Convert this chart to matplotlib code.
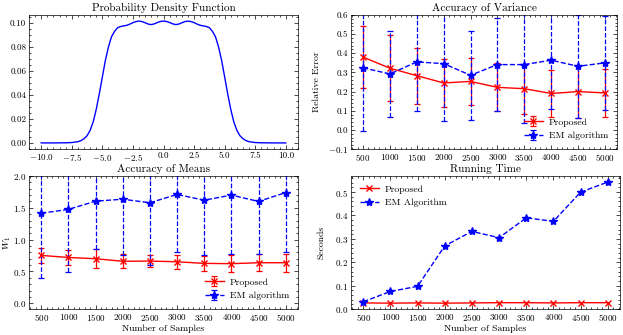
import numpy as np
import matplotlib
matplotlib.use("Agg")
import matplotlib.pyplot as plt

plt.rcParams.update({
    "font.family": "serif",
    "font.serif": ["cmr10"],
    "mathtext.fontset": "cm",
    "axes.formatter.use_mathtext": True,
    "axes.unicode_minus": True,
    "font.size": 7,
    "xtick.direction": "in",
    "ytick.direction": "in",
    "xtick.top": True,
    "ytick.right": True,
    "xtick.minor.visible": True,
    "ytick.minor.visible": True,
    "xtick.major.size": 3,
    "ytick.major.size": 3,
    "xtick.minor.size": 1.5,
    "ytick.minor.size": 1.5,
    "xtick.major.width": 0.5,
    "ytick.major.width": 0.5,
    "xtick.minor.width": 0.5,
    "ytick.minor.width": 0.5,
    "axes.linewidth": 0.5,
    "legend.frameon": False,
})

# ---- data ----
pdf_x_half = [0.0, 0.25, 0.5, 0.75, 1.0, 1.25, 1.5, 1.75, 2.0, 2.25, 2.5, 2.75,
              3.0, 3.25, 3.5, 3.75, 4.0, 4.25, 4.5, 4.75, 5.0, 5.25, 5.5, 5.75,
              6.0, 6.25, 6.5, 6.75, 7.0, 7.5, 8.0, 9.0, 10.0]
pdf_y_half = [0.1015, 0.1012, 0.1003, 0.0992, 0.0986, 0.0990, 0.1001, 0.1011,
              0.1015, 0.1011, 0.1002, 0.0990, 0.0980, 0.0975, 0.0970, 0.0960,
              0.0930, 0.0885, 0.0800, 0.0690, 0.0550, 0.0410, 0.0280, 0.0175,
              0.0105, 0.0060, 0.0035, 0.0019, 0.0010, 0.0003, 0.0001, 0.0, 0.0]

samples = [500, 1000, 1500, 2000, 2500, 3000, 3500, 4000, 4500, 5000]

var_prop = [0.380, 0.322, 0.283, 0.245, 0.253, 0.222, 0.215, 0.190, 0.200, 0.193]
var_prop_err = [0.163, 0.172, 0.147, 0.125, 0.124, 0.126, 0.130, 0.125, 0.140, 0.124]
var_em = [0.324, 0.292, 0.355, 0.346, 0.285, 0.341, 0.341, 0.364, 0.332, 0.350]
var_em_err = [0.328, 0.226, 0.259, 0.301, 0.231, 0.245, 0.306, 0.256, 0.270, 0.245]

mean_prop = [0.752, 0.720, 0.700, 0.660, 0.663, 0.652, 0.627, 0.622, 0.637, 0.637]
mean_prop_err = [0.120, 0.120, 0.145, 0.110, 0.100, 0.110, 0.120, 0.130, 0.135, 0.140]
mean_em = [1.415, 1.475, 1.605, 1.635, 1.580, 1.710, 1.620, 1.700, 1.600, 1.740]
mean_em_err = [1.015, 0.990, 0.750, 0.870, 0.985, 0.910, 0.860, 0.930, 0.820, 0.935]

time_prop = [0.026, 0.025, 0.026, 0.025, 0.026, 0.027, 0.027, 0.026, 0.027, 0.027]
time_em = [0.031, 0.075, 0.097, 0.270, 0.332, 0.305, 0.390, 0.375, 0.500, 0.543]

pdf_x = [-v for v in pdf_x_half[::-1]] + pdf_x_half[1:]
pdf_y = pdf_y_half[::-1] + pdf_y_half[1:]

fig = plt.figure(figsize=(6.23, 3.35), dpi=100)
W, H = 623.0, 335.0
def ax_at(x0, y0, x1, y1):
    return fig.add_axes([x0 / W, 1 - y1 / H, (x1 - x0) / W, (y1 - y0) / H])

ax1 = ax_at(29, 15, 298, 149)
ax2 = ax_at(351, 15, 617, 149)
ax3 = ax_at(29, 176, 298, 309)
ax4 = ax_at(351, 176, 620, 309)

signed = matplotlib.ticker.FuncFormatter

# PDF
ax1.plot(pdf_x, pdf_y, color="blue", lw=1.0)
ax1.set_title("Probability Density Function", fontsize=8, pad=3)
ax1.set_xticks([-10, -7.5, -5, -2.5, 0, 2.5, 5, 7.5, 10])
ax1.xaxis.set_major_formatter(signed(
    lambda v, p: ("$-$" if v < 0 else "") + "%.1f" % abs(v)))
ax1.yaxis.set_major_formatter(matplotlib.ticker.FormatStrFormatter("%.2f"))


def eb(ax, y, err, color, marker, ls, label, ms):
    c = ax.errorbar(samples, y, yerr=err, color=color, marker=marker, ls=ls,
                    lw=1.0, ms=ms, capsize=2.2, elinewidth=0.9, capthick=0.9,
                    label=label)
    for bl in c[2]:
        bl.set_linestyle(ls)
    return c

leg_kw = dict(fontsize=7, handlelength=2.0, handletextpad=0.6)

# Variance
eb(ax2, var_prop, var_prop_err, "red", "x", "-", "Proposed", 5)
eb(ax2, var_em, var_em_err, "blue", "*", "--", "EM algorithm", 6)
ax2.set_ylim(-0.1, 0.6)
ax2.set_title("Accuracy of Variance", fontsize=8, pad=3)
ax2.set_ylabel("Relative Error", labelpad=5)
ax2.set_xticks(samples)
ax2.yaxis.set_major_formatter(signed(
    lambda v, p: ("$-$" if v < -1e-9 else "") + "%.1f" % abs(v)))
ax2.legend(loc="lower right", **leg_kw)

# Means
eb(ax3, mean_prop, mean_prop_err, "red", "x", "-", "Proposed", 5)
eb(ax3, mean_em, mean_em_err, "blue", "*", "--", "EM algorithm", 6)
ax3.set_ylim(-0.09, 2.0)
ax3.set_title("Accuracy of Means", fontsize=8, pad=3)
ax3.set_ylabel("$W_1$", labelpad=0)
ax3.set_xlabel("Number of Samples", labelpad=1)
ax3.set_xticks(samples)
ax3.legend(loc="lower right", **leg_kw)

# Running time
ax4.plot(samples, time_prop, color="red", marker="x", ls="-", lw=1.0, ms=5,
         label="Proposed")
ax4.plot(samples, time_em, color="blue", marker="*", ls="--", lw=1.0, ms=6,
         label="EM Algorithm")
ax4.set_ylim(bottom=0)
ax4.set_title("Running Time", fontsize=8, pad=3)
ax4.set_ylabel("Seconds", labelpad=7)
ax4.set_xlabel("Number of Samples", labelpad=1)
ax4.set_xticks(samples)
ax4.legend(loc="upper left", **leg_kw)

for ax in (ax1, ax2, ax3, ax4):
    ax.tick_params(labelsize=6.5, pad=2)

fig.savefig("out.png", dpi=100)
